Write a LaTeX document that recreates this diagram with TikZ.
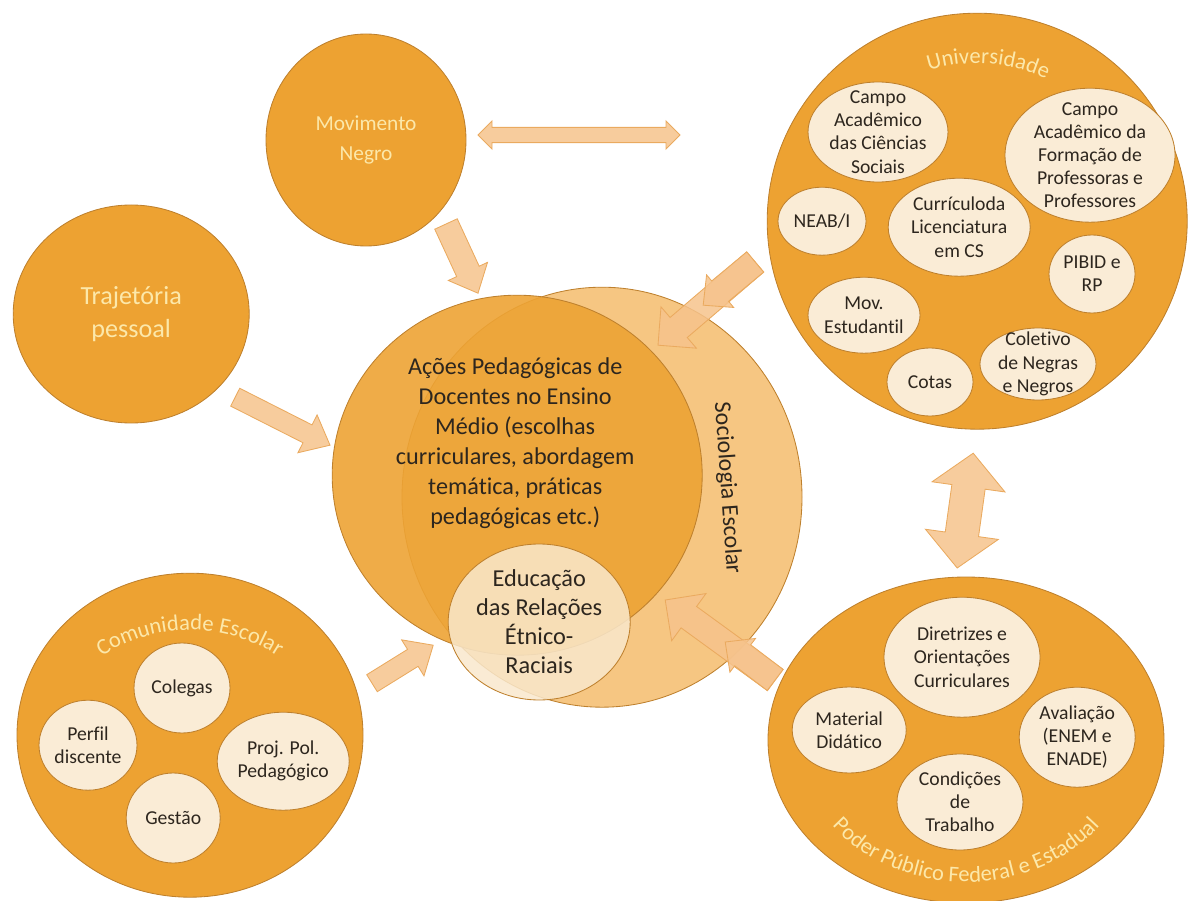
\documentclass[tikz,border=0pt]{standalone}
\usepackage{fontspec}
\setmainfont{Carlito}[Ligatures=NoCommon]
\usetikzlibrary{calc,shapes.geometric,decorations.text}
\definecolor{discorange}{RGB}{237,162,50}
\definecolor{discline}{RGB}{190,128,45}
\definecolor{socfill}{RGB}{246,198,130}
\definecolor{acoesfill}{RGB}{237,163,52}
\definecolor{educream}{RGB}{249,232,204}
\definecolor{bubblecream}{RGB}{250,236,214}
\definecolor{arrowfill}{RGB}{246,195,140}
\definecolor{arrowline}{RGB}{234,170,95}
\definecolor{paletext}{RGB}{252,232,170}
\definecolor{inktext}{RGB}{45,38,30}
\tikzset{
    % big orange discs
    disc/.style={ellipse, draw=discline, fill=discorange, line width=0.6pt, inner sep=0pt},
    % cream bubbles inside the discs
    bubble/.style={ellipse, draw=discline, fill=bubblecream, line width=0.6pt, inner sep=0pt},
    bubbletext/.style={font=\fontsize{14}{16.5}\selectfont, text=inktext, align=center, text opacity=1},
    disctext/.style={text=paletext, align=center, text opacity=1},
    % block arrows
    blockarrow/.style={fill=arrowfill, draw=arrowline, line width=0.6pt, fill opacity=0.85},
    % titles written along the rim of a disc
    arctitle/.style={decorate, decoration={text along path, text align=center,
        text={|\fontsize{16}{18}\selectfont\color{paletext}|#1}}},
}
% tail, tip, half shaft, half head, head length
\newcommand{\blockarrow}[5]{%
  \coordinate (hb) at ($(#2)!#5!(#1)$);
  \filldraw[blockarrow] ($(#1)!#3!90:(#2)$) -- ($(hb)!#3!90:(#2)$) -- ($(hb)!#4!90:(#2)$) -- (#2)
    -- ($(hb)!#4!-90:(#2)$) -- ($(hb)!#3!-90:(#2)$) -- ($(#1)!#3!-90:(#2)$) -- cycle;}
% end, end, half shaft, half head, head length
\newcommand{\twowayarrow}[5]{%
  \coordinate (ha) at ($(#1)!#5!(#2)$);
  \coordinate (hb) at ($(#2)!#5!(#1)$);
  \filldraw[blockarrow] (#1) -- ($(ha)!#4!90:(#2)$) -- ($(ha)!#3!90:(#2)$) -- ($(hb)!#3!-90:(#1)$)
    -- ($(hb)!#4!-90:(#1)$) -- (#2) -- ($(hb)!#4!90:(#1)$) -- ($(hb)!#3!90:(#1)$)
    -- ($(ha)!#3!-90:(#2)$) -- ($(ha)!#4!-90:(#2)$) -- cycle;}

\begin{document}
\begin{tikzpicture}
  \useasboundingbox (0,0) rectangle (29.725,-22.525);
  % central group
  \node[disc, fill=socfill, minimum width=10cm, minimum height=10.5cm] (soc) at (15.05,-12.43) {};
  \node[disc, fill=acoesfill, fill opacity=0.9, minimum width=9.25cm, minimum height=9cm] (acoes) at (12.93,-11.88) {};
  \node[disc, fill=educream, fill opacity=0.85, minimum width=4.55cm, minimum height=3.9cm,
        label={[disctext, text=inktext, font=\fontsize{17.3}{20.6}\selectfont]center:Educação\\das Relações\\Étnico-\\Raciais}] (edu) at (13.48,-15.55) {};
  \node[align=center, text=inktext, font=\fontsize{17.2}{21.3}\selectfont] (acoestext) at (12.88,-11.08)
        {Ações Pedagógicas de\\Docentes no Ensino\\Médio (escolhas\\curriculares, abordagem\\temática, práticas\\pedagógicas etc.)};
  \node[rotate=-86, text=inktext, font=\fontsize{17}{20}\selectfont] (soctext) at (18.18,-12.2) {Sociologia Escolar};

  % outer discs
  \node[disc, minimum width=5cm, minimum height=5.3cm,
        label={[disctext, font=\fontsize{15.2}{21.3}\selectfont]center:Movimento\\Negro}] (mov) at (9.15,-3.5) {};
  \node[disc, minimum width=5.9cm, minimum height=5.45cm,
        label={[disctext, font=\fontsize{18.6}{23.5}\selectfont]center:Trajetória\\pessoal}] (traj) at (3.28,-7.85) {};
  \node[disc, minimum width=10.5cm, minimum height=10.4cm] (uni) at (24.43,-5.53) {};
  \node[disc, minimum width=9.9cm, minimum height=8.15cm] (pod) at (24.15,-18.5) {};
  \node[disc, minimum width=8.65cm, minimum height=8.1cm] (com) at (4.75,-18.38) {};

  % Universidade
  \node[bubble, minimum width=3.5cm, minimum height=2.5cm, label={[bubbletext]center:Campo\\Acadêmico\\das Ciências\\Sociais}] (cacs) at (21.95,-3.3) {};
  \node[bubble, minimum width=4.25cm, minimum height=3.35cm, label={[bubbletext]center:Campo\\Acadêmico da\\Formação de\\Professoras e\\Professores}] (cafp) at (27.25,-3.88) {};
  \node[bubble, minimum width=2.2cm, minimum height=1.7cm, label={[bubbletext]center:NEAB/I}] (neab) at (20.55,-5.53) {};
  \node[bubble, minimum width=3.55cm, minimum height=2.45cm, label={[bubbletext]center:Currículoda\\Licenciatura\\em CS}] (curr) at (23.98,-5.68) {};
  \node[bubble, minimum width=2.15cm, minimum height=1.95cm, label={[bubbletext]center:PIBID e\\RP}] (pibid) at (27.3,-6.85) {};
  \node[bubble, minimum width=2.8cm, minimum height=1.9cm, label={[bubbletext]center:Mov.\\Estudantil}] (movest) at (21.6,-7.88) {};
  \node[bubble, minimum width=2.15cm, minimum height=1.7cm, label={[bubbletext]center:Cotas}] (cotas) at (23.25,-9.55) {};
  \node[bubble, minimum width=2.9cm, minimum height=1.8cm, label={[bubbletext]center:Coletivo\\de Negras\\e Negros}] (coletivo) at (25.95,-9.1) {};
  \path[arctitle={Universidade}] (uni.center) ++(120:3.95) arc[start angle=120, end angle=52, radius=3.95];

  % Comunidade Escolar
  \node[bubble, minimum width=2.4cm, minimum height=2.25cm, label={[bubbletext]center:Colegas}] (colegas) at (4.55,-17.2) {};
  \node[bubble, minimum width=2.45cm, minimum height=2.25cm, label={[bubbletext]center:Perfil\\discente}] (perfil) at (2.2,-18.63) {};
  \node[bubble, minimum width=3.3cm, minimum height=2.45cm, label={[bubbletext]center:Proj. Pol.\\Pedagógico}] (ppp) at (7.08,-19.03) {};
  \node[bubble, minimum width=2.35cm, minimum height=2.25cm, label={[bubbletext]center:Gestão}] (gestao) at (4.33,-20.45) {};
  \path[arctitle={Comunidade Escolar}] (com.center) ++(0,-1.37) ++(135:4) arc[start angle=135, end angle=45, radius=4];

  % Poder Publico
  \node[bubble, minimum width=3.9cm, minimum height=3cm, label={[bubbletext]center:Diretrizes e\\Orientações\\Curriculares}] (diretrizes) at (24.05,-16.43) {};
  \node[bubble, minimum width=2.85cm, minimum height=2.15cm, label={[bubbletext]center:Material\\Didático}] (material) at (21.23,-18.25) {};
  \node[bubble, minimum width=2.9cm, minimum height=2.5cm, label={[bubbletext]center:Avaliação\\(ENEM e\\ENADE)}] (avaliacao) at (26.93,-18.43) {};
  \node[bubble, minimum width=3.15cm, minimum height=2.4cm, label={[bubbletext]center:Condições\\de\\Trabalho}] (condicoes) at (24,-20.05) {};
  \path[arctitle={Poder Público Federal e Estadual}] (pod.center) ++(205:4.2 and 3.55)
        arc[start angle=205, end angle=335, x radius=4.2, y radius=3.55];

  % arrow ends
  \coordinate (movR) at (11.95,-3.375);   \coordinate (uniL) at (17.0,-3.375);
  \coordinate (uniB) at (24.33,-11.33);   \coordinate (podT) at (23.93,-14.2);
  \coordinate (movS) at (11.15,-5.6);     \coordinate (movE) at (11.95,-7.33);
  \coordinate (trajS) at (5.88,-9.93);    \coordinate (trajE) at (8.25,-11.13);
  \coordinate (comS) at (9.3,-17.08);     \coordinate (comE) at (10.83,-16.13);
  \coordinate (uniS) at (18.88,-6.55);    \coordinate (uniE) at (16.45,-8.63);  \coordinate (uniE2) at (17.58,-7.63);
  \coordinate (podS) at (19.38,-17.0);    \coordinate (podE) at (16.63,-15.0);  \coordinate (podE2) at (18.13,-16.05);

  % arrows
  \twowayarrow{movR}{uniL}{0.19cm}{0.35cm}{0.35cm}
  \twowayarrow{uniB}{podT}{0.42cm}{0.92cm}{0.85cm}
  \blockarrow{movS}{movE}{0.31cm}{0.54cm}{0.6cm}
  \blockarrow{trajS}{trajE}{0.25cm}{0.53cm}{0.63cm}
  \blockarrow{comS}{comE}{0.25cm}{0.53cm}{0.6cm}
  \blockarrow{uniS}{uniE}{0.33cm}{0.68cm}{0.68cm}
  \blockarrow{uniS}{uniE2}{0.33cm}{0.53cm}{0.55cm}
  \blockarrow{podS}{podE}{0.33cm}{0.73cm}{0.73cm}
  \blockarrow{podS}{podE2}{0.33cm}{0.53cm}{0.55cm}
\end{tikzpicture}
\end{document}
